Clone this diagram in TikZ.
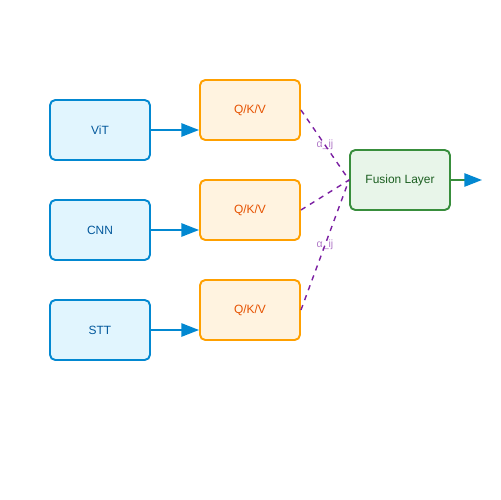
\documentclass[tikz,border=0pt]{standalone}
\usepackage{fontspec}
\setmainfont{Liberation Sans}
\usetikzlibrary{arrows.meta}
\definecolor{encfill}{HTML}{E1F5FE}
\definecolor{encdraw}{HTML}{0288D1}
\definecolor{enctext}{HTML}{01579B}
\definecolor{qkvfill}{HTML}{FFF3E0}
\definecolor{qkvdraw}{HTML}{FFA000}
\definecolor{qkvtext}{HTML}{E65100}
\definecolor{fusfill}{HTML}{E8F5E9}
\definecolor{fusdraw}{HTML}{388E3C}
\definecolor{fustext}{HTML}{1B5E20}
\definecolor{attn}{HTML}{7B1FA2}
\begin{document}
\begin{tikzpicture}[x=0.02cm,y=-0.02cm]
    \tikzstyle{encoder}=[draw=encdraw,fill=encfill,text=enctext,line width=1.1pt,rounded corners=3pt,minimum width=2cm,minimum height=1.2cm,font=\fontsize{6.8}{8}\selectfont]
    \tikzstyle{qkv}=[draw=qkvdraw,fill=qkvfill,text=qkvtext,line width=1.1pt,rounded corners=3pt,minimum width=2cm,minimum height=1.2cm,font=\fontsize{6.8}{8}\selectfont]
    \tikzstyle{fusion}=[draw=fusdraw,fill=fusfill,text=fustext,line width=1.1pt,rounded corners=3pt,minimum width=2cm,minimum height=1.2cm,font=\fontsize{6.8}{8}\selectfont]
    \tikzstyle{feed}=[draw=encdraw,line width=1.1pt,-{Triangle[length=10pt,width=7.5pt,color=encdraw]}]
    \tikzstyle{attention}=[draw=attn,line width=0.8pt,dashed]
    \tikzstyle{weight}=[text=attn,text opacity=0.6,font=\fontsize{6}{7}\selectfont,inner sep=0pt]

    \useasboundingbox (0,0) rectangle (500,500);

    \node[encoder] at (100,130) (vit) {ViT};
    \node[encoder] at (100,230) (cnn) {CNN};
    \node[encoder] at (100,330) (stt) {STT};

    \node[qkv] at (250,110) (q1) {Q/K/V};
    \node[qkv] at (250,210) (q2) {Q/K/V};
    \node[qkv] at (250,310) (q3) {Q/K/V};

    \node[fusion] at (400,180) (fus) {Fusion Layer};
    \coordinate (out) at (482,180);

    \draw[feed] (vit.east) -- (vit.east -| q1.west);
    \draw[feed] (cnn.east) -- (cnn.east -| q2.west);
    \draw[feed] (stt.east) -- (stt.east -| q3.west);

    \draw[attention] (q1.east) -- node[weight] {α\_ij} (fus.west);
    \draw[attention] (q2.east) -- (fus.west);
    \draw[attention] (q3.east) -- node[weight] {α\_ij} (fus.west);

    \draw[feed,draw=fusdraw] (fus) -- (out);
\end{tikzpicture}
\end{document}
